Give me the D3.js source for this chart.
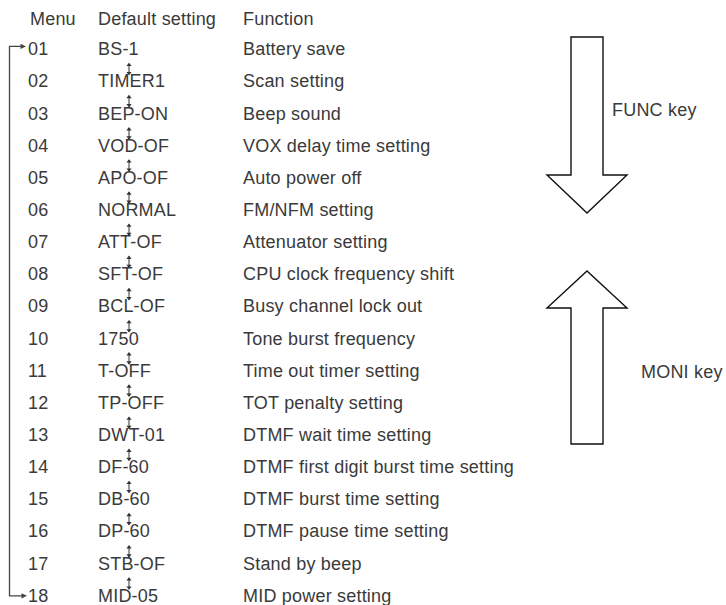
<!DOCTYPE html>
<html>
<head>
<meta charset="utf-8">
<script src="https://cdn.jsdelivr.net/npm/d3@7"></script>
<style>
  html, body { margin: 0; padding: 0; background: #fff; }
  svg { display: block; }
  text { font-family: "Liberation Sans", Arial, Helvetica, sans-serif; font-size: 18px; letter-spacing: 0.2px; fill: #3a3a3a; }
</style>
</head>
<body>
<svg id="chart" width="726" height="605"></svg>
<script>
const headers = ["Menu", "Default setting", "Function"];
const menuNums = ["01","02","03","04","05","06","07","08","09","10","11","12","13","14","15","16","17","18"];
const defaults = ["BS-1","TIMER1","BEP-ON","VOD-OF","APO-OF","NORMAL","ATT-OF","SFT-OF","BCL-OF","1750","T-OFF","TP-OFF","DWT-01","DF-60","DB-60","DP-60","STB-OF","MID-05"];
const functions = ["Battery save","Scan setting","Beep sound","VOX delay time setting","Auto power off","FM/NFM setting","Attenuator setting","CPU clock frequency shift","Busy channel lock out","Tone burst frequency","Time out timer setting","TOT penalty setting","DTMF wait time setting","DTMF first digit burst time setting","DTMF burst time setting","DTMF pause time setting","Stand by beep","MID power setting"];
const keyLabels = ["FUNC key", "MONI key"];

const svg = d3.select("#chart");
const y = d3.scalePoint().domain(menuNums).range([55.2, 601.8]);
const colX = d3.scaleOrdinal().domain(headers).range([30, 98, 243]);
const ink = "#333";

// headers
svg.selectAll("text.hdr").data(headers).join("text")
  .attr("class", "hdr")
  .attr("x", d => colX(d)).attr("y", 24.5).text(d => d);

const rows = menuNums.map((m, i) => ({ m, d: defaults[i], f: functions[i] }));
svg.selectAll("text.num").data(rows).join("text")
  .attr("class", "num").attr("x", 28).attr("y", r => y(r.m)).text(r => r.m);
svg.selectAll("text.def").data(rows).join("text")
  .attr("class", "def").attr("x", colX(headers[1])).attr("y", r => y(r.m)).text(r => r.d);
svg.selectAll("text.fn").data(rows).join("text")
  .attr("class", "fn").attr("x", colX(headers[2])).attr("y", r => y(r.m)).text(r => r.f);

// small double arrows between consecutive default settings
const ax = 129;
const pairs = d3.pairs(menuNums);
const g = svg.append("g").attr("stroke", ink).attr("fill", ink);
pairs.forEach(([a, b]) => {
  const y0 = y(a) + 7.5, y1 = y(b) - 12;
  g.append("line").attr("x1", ax).attr("x2", ax).attr("y1", y0 + 1).attr("y2", y1 - 1).attr("stroke-width", 1);
  g.append("path").attr("stroke", "none")
    .attr("d", `M${ax},${y0} L${ax - 2.6},${y0 + 3.4} L${ax + 2.6},${y0 + 3.4} Z`);
  g.append("path").attr("stroke", "none")
    .attr("d", `M${ax},${y1} L${ax - 2.6},${y1 - 3.4} L${ax + 2.6},${y1 - 3.4} Z`);
});

// left loop bracket
const yTop = y(menuNums[0]) - 8.8, yBot = y(menuNums[menuNums.length - 1]) - 6;
svg.append("path")
  .attr("d", `M23,${yBot} L9.5,${yBot} L9.5,${yTop} L21,${yTop}`)
  .attr("fill", "none").attr("stroke", "#444").attr("stroke-width", 1.3);
svg.append("path").attr("fill", "#444")
  .attr("d", `M26,${yTop} L20.5,${yTop - 2.6} L20.5,${yTop + 2.6} Z`);
svg.append("path").attr("fill", "#444")
  .attr("d", `M27,${yBot} L21.5,${yBot - 2.6} L21.5,${yBot + 2.6} Z`);

// big block arrows
const cx = 587, hw = 16, wing = 40;
const down = { top: 37, shoulder: 175, tip: 213 };
const up = { tip: 271, shoulder: 308, bottom: 444 };
svg.append("path")
  .attr("d", `M${cx - hw},${down.top} L${cx + hw},${down.top} L${cx + hw},${down.shoulder} L${cx + wing},${down.shoulder} L${cx},${down.tip} L${cx - wing},${down.shoulder} L${cx - hw},${down.shoulder} Z`)
  .attr("fill", "#fff").attr("stroke", "#111").attr("stroke-width", 1.4).attr("stroke-linejoin", "miter");
svg.append("path")
  .attr("d", `M${cx - hw},${up.bottom} L${cx + hw},${up.bottom} L${cx + hw},${up.shoulder} L${cx + wing},${up.shoulder} L${cx},${up.tip} L${cx - wing},${up.shoulder} L${cx - hw},${up.shoulder} Z`)
  .attr("fill", "#fff").attr("stroke", "#111").attr("stroke-width", 1.4).attr("stroke-linejoin", "miter");

svg.append("text").attr("x", 612).attr("y", 116).text(keyLabels[0]);
svg.append("text").attr("x", 641).attr("y", 378).text(keyLabels[1]);
</script>
</body>
</html>
